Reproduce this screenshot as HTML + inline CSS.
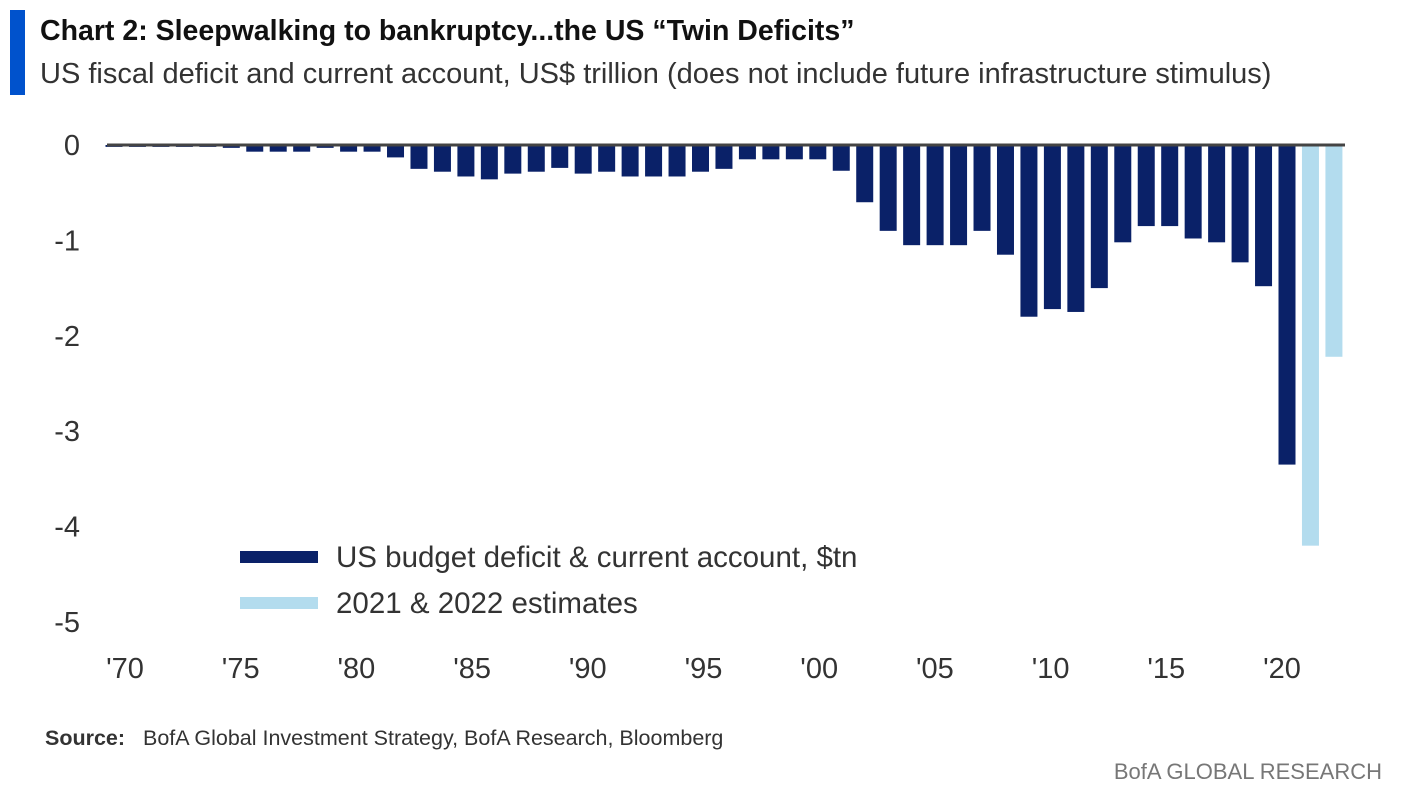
<!DOCTYPE html>
<html><head><meta charset="utf-8"><style>
body{margin:0;width:1404px;height:798px;background:#fff;overflow:hidden;font-family:"Liberation Sans",sans-serif;}
</style></head><body>
<div style="position:absolute;left:10px;top:10px;width:15px;height:85px;background:#0052cc"></div>
<div style="position:absolute;left:40px;top:15px;font-size:28.5px;font-weight:bold;color:#111">Chart 2: Sleepwalking to bankruptcy...the US “Twin Deficits”</div>
<div style="position:absolute;left:40px;top:58px;font-size:29px;color:#333">US fiscal deficit and current account, US$ trillion (does not include future infrastructure stimulus)</div>
<svg id="chart" width="1404" height="798" style="position:absolute;left:0;top:0"></svg>
<div style="position:absolute;left:45px;top:726px;font-size:21.5px;color:#333"><b>Source:</b>&nbsp;&nbsp; BofA Global Investment Strategy, BofA Research, Bloomberg</div>
<div style="position:absolute;right:22px;top:759px;font-size:22px;color:#777">BofA GLOBAL RESEARCH</div>
<script>
const years=[];for(let y=1970;y<=2022;y++)years.push(y);
const values=[-0.02,-0.02,-0.02,-0.02,-0.02,-0.03,-0.07,-0.07,-0.07,-0.03,-0.07,-0.07,-0.13,-0.25,-0.28,-0.33,-0.36,-0.3,-0.28,-0.24,-0.3,-0.28,-0.33,-0.33,-0.33,-0.28,-0.25,-0.15,-0.15,-0.15,-0.15,-0.27,-0.6,-0.9,-1.05,-1.05,-1.05,-0.9,-1.15,-1.8,-1.72,-1.75,-1.5,-1.02,-0.85,-0.85,-0.98,-1.02,-1.23,-1.48,-3.35,-4.2,-2.22];
const estimateYears=[2021,2022];
const yTicks=[0,-1,-2,-3,-4,-5];
const xTickYears=[1970,1975,1980,1985,1990,1995,2000,2005,2010,2015,2020];
const xTickLabels=["'70","'75","'80","'85","'90","'95","'00","'05","'10","'15","'20"];
const NS="http://www.w3.org/2000/svg",svg=document.getElementById('chart');
const yS=v=>145-v*95.4;
const xS=yr=>114+(yr-1970)*23.46;
const xL=yr=>125+(yr-1970)*23.14;
function mk(t,a){const e=document.createElementNS(NS,t);for(const k in a)e.setAttribute(k,a[k]);svg.appendChild(e);return e;}
yTicks.forEach(v=>{const t=mk('text',{x:80,y:yS(v)+10,'text-anchor':'end','font-size':29,fill:'#333','font-family':'Liberation Sans'});t.textContent=v===0?'0':String(v);

});
years.forEach((yr,i)=>{const v=values[i];const est=estimateYears.includes(yr);
const r=mk('rect',{x:xS(yr)-8.5,y:yS(0),width:17,height:Math.max(1,yS(v)-yS(0)),fill:est?'#b3dcee':'#0a2168'});

});
const bl=mk('line',{x1:107,x2:1345,y1:145,y2:145,stroke:'#444','stroke-width':3});


xTickYears.forEach((yr,i)=>{const t=mk('text',{x:xL(yr),y:678,'text-anchor':'middle','font-size':29,fill:'#333','font-family':'Liberation Sans'});t.textContent=xTickLabels[i];

});
const leg=[['#0a2168','US budget deficit & current account, $tn',557],['#b3dcee','2021 & 2022 estimates',603]];
leg.forEach(l=>{const r=mk('rect',{x:240,y:l[2]-6,width:78,height:12,fill:l[0]});


const t=mk('text',{x:336,y:l[2]+10,'font-size':29.5,fill:'#333','font-family':'Liberation Sans'});t.textContent=l[1];

});
</script>
</body></html>
